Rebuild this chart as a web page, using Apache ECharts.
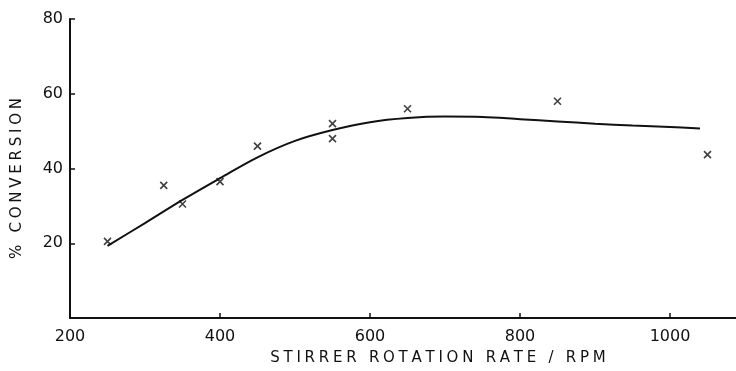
<!DOCTYPE html>
<html lang="en">

<head>
  <script src="https://cdn.jsdelivr.net/npm/echarts@6.0.0/dist/echarts.min.js"></script>
  <meta charset="UTF-8">
</head>

<body style="margin:0;background:#fff;">
  <div id="conversionChart" style="width: 736px;height:371px;"></div>

  <script type="text/javascript">

    // measured points (rpm, % conversion)
    var pointRpm = [250, 325, 350, 400, 450, 550, 550, 650, 850, 1050];
    var pointConversion = [20.5, 35.5, 30.5, 36.5, 46, 52, 48, 56, 58, 43.7];

    // hand drawn trend curve
    var curveRpm = [250, 300, 350, 400, 450, 500, 550, 600, 650, 700, 750, 800, 850, 900, 950, 1000, 1040];
    var curveConversion = [19.3, 25.4, 31.6, 37.4, 43.0, 47.4, 50.3, 52.4, 53.5, 53.9, 53.8, 53.2, 52.6, 52.0, 51.5, 51.1, 50.7];

    var xTitle = 'STIRRER ROTATION RATE / RPM';
    var yTitle = '% CONVERSION';

    // the lettering on the original is widely spaced
    function spaced(s) {
      return s.split('').join('\u2005');
    }

    function zip(a, b) {
      return a.map((v, i) => [v, b[i]]);
    }

    const chart = echarts.init(document.getElementById('conversionChart'));
    const ink = '#111';
    const font = 'DejaVu Sans';

    let option = {
      animation: false,
      backgroundColor: '#fff',
      grid: {
        left: 70,
        top: 19,
        right: 0,
        bottom: 52
      },
      xAxis: {
        type: 'value',
        min: 200,
        max: 1088,
        interval: 200,
        name: spaced(xTitle),
        nameLocation: 'middle',
        nameGap: 33,
        nameTextStyle: {
          color: ink,
          fontFamily: font,
          fontSize: 15,
          padding: [0, 0, 0, 70]
        },
        axisLine: { lineStyle: { color: ink, width: 2 } },
        axisTick: { inside: true, length: 5, lineStyle: { color: ink, width: 1.5 } },
        axisLabel: {
          color: ink,
          fontFamily: font,
          fontSize: 16,
          margin: 11,
          showMaxLabel: false,
          formatter: v => String(v)
        },
        splitLine: { show: false }
      },
      yAxis: {
        type: 'value',
        min: 0,
        max: 80,
        interval: 20,
        name: spaced(yTitle),
        nameLocation: 'middle',
        nameGap: 45,
        nameTextStyle: {
          color: ink,
          fontFamily: font,
          fontSize: 15,
          padding: [0, 20, 0, 0]
        },
        axisLine: { show: true, lineStyle: { color: ink, width: 2 } },
        axisTick: { show: true, inside: true, length: 5, lineStyle: { color: ink, width: 1.5 } },
        axisLabel: {
          color: ink,
          fontFamily: font,
          fontSize: 16,
          margin: 7,
          showMinLabel: false
        },
        splitLine: { show: false }
      },
      series: [
        {
          name: 'trend',
          type: 'line',
          data: zip(curveRpm, curveConversion),
          smooth: 0.35,
          showSymbol: false,
          lineStyle: { color: ink, width: 2 }
        },
        {
          name: 'measured',
          type: 'scatter',
          data: zip(pointRpm, pointConversion),
          symbol: 'path://M0,0L10,10M10,0L0,10',
          symbolSize: 7,
          itemStyle: { color: 'none', borderColor: ink, borderWidth: 1.6 }
        }
      ]
    };

    chart.setOption(option);
  </script>
</body>

</html>
